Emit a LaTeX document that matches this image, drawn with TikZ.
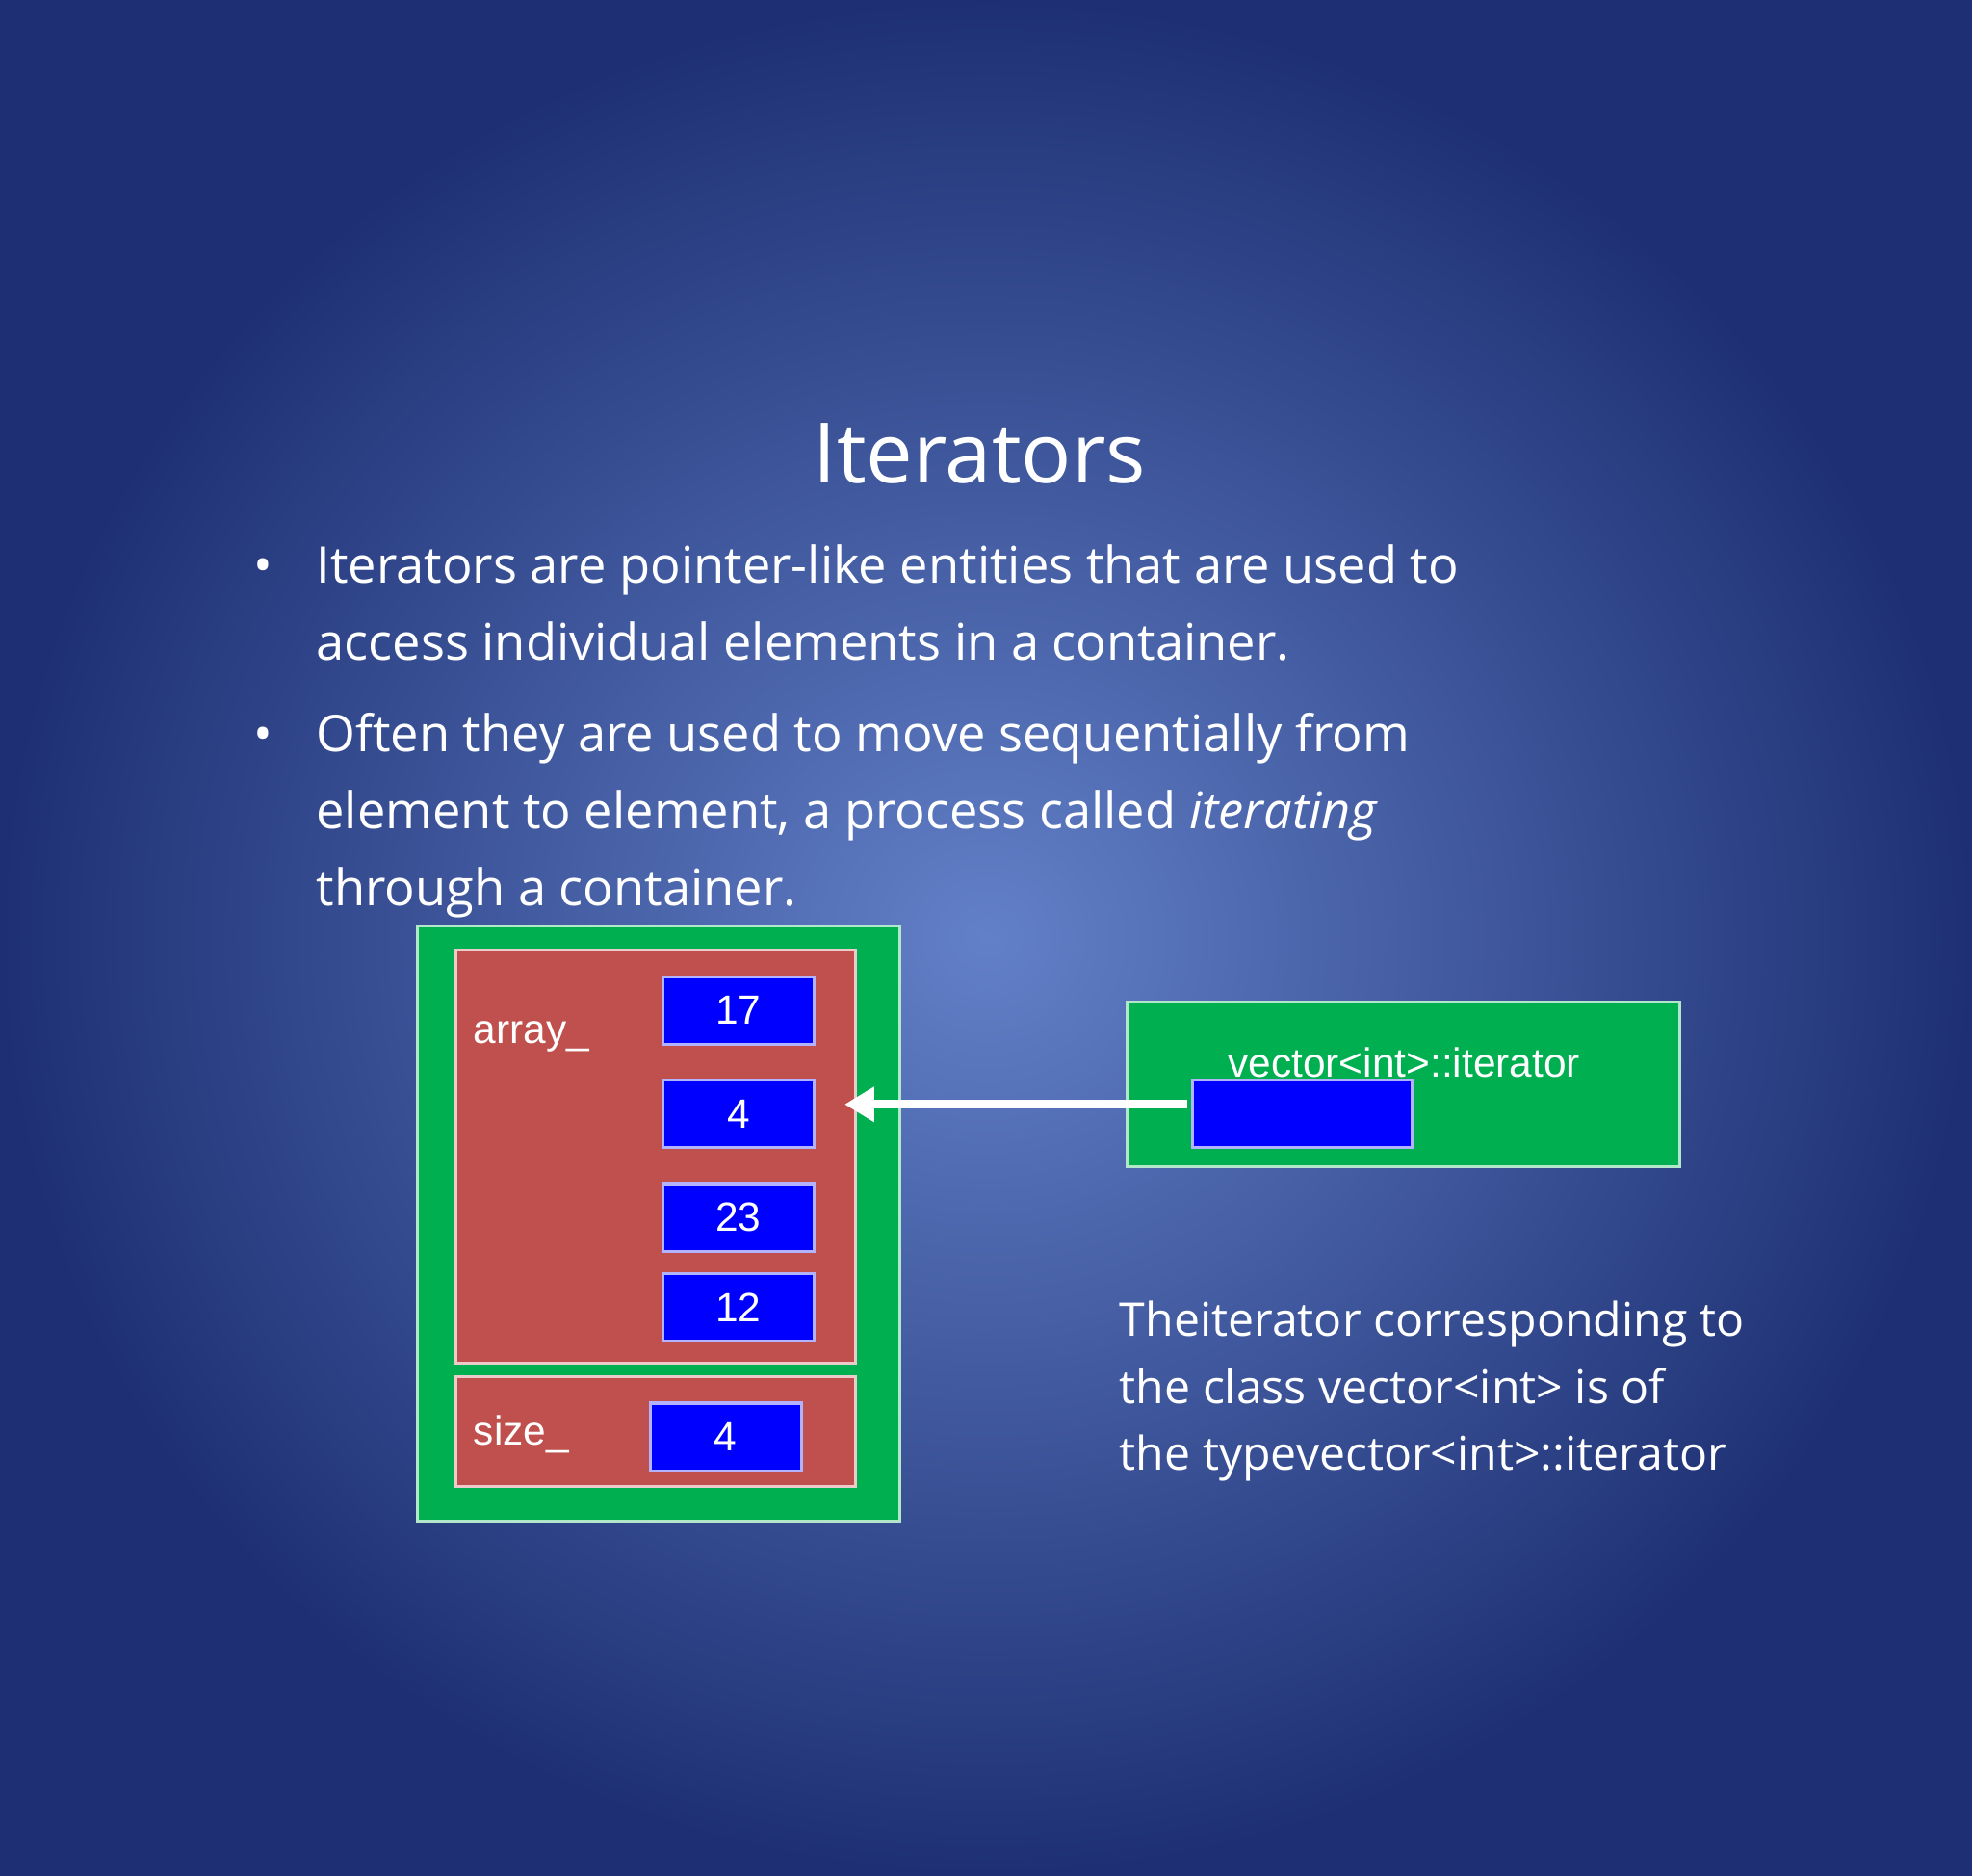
\documentclass[tikz,border=0pt]{standalone}
\usepackage{fontspec}
\usetikzlibrary{arrows.meta}
\setmainfont{Open Sans}
\newfontfamily\arialf{Liberation Sans}
\definecolor{mygreen}{RGB}{0,176,80}
\definecolor{myred}{RGB}{192,80,77}
\begin{document}
\begin{tikzpicture}[x=0.01cm,y=-0.01cm,
  greenbox/.style={draw=white!70!mygreen,line width=0.8pt,fill=mygreen},
  redbox/.style={draw=white!70!myred,line width=0.8pt,fill=myred},
  bluebox/.style={draw=white!70!blue,line width=0.8pt,fill=blue,text=white,font=\arialf\fontsize{11}{13}\selectfont},
  lbl/.style={text=white,font=\arialf\fontsize{11}{13}\selectfont},
  txt/.style={text=white,font=\fontsize{13.6}{17}\selectfont,anchor=base west,inner sep=0},
  rtxt/.style={text=white,font=\fontsize{12.5}{15}\selectfont,anchor=base west,inner sep=0}]
\shade[inner color={rgb,255:red,98;green,128;blue,200},outer color={rgb,255:red,30;green,48;blue,115},shading=radial] (-150,-300) rectangle (1718,1476);
\useasboundingbox (0,0) rectangle (1568,1176);
\node[text=white,font=\fontsize{22.5}{27}\selectfont] (title) at (778,130) {Iterators};
\node[txt] (b1) at (90,252) {\textbullet};
\node[txt] (l1) at (149,252) {Iterators are pointer-like entities that are used to};
\node[txt] (l2) at (149,325) {access individual elements in a container.};
\node[txt] (b2) at (90,412) {\textbullet};
\node[txt] (l3) at (149,412) {Often they are used to move sequentially from};
\node[txt] (l4) at (149,485) {element to element, a process called \textit{iterating}};
\node[txt] (l5) at (149,558) {through a container.};
\draw[greenbox] (245,577) rectangle (702,1141);
\draw[redbox] (282,600) rectangle (660,991);
\draw[redbox] (282,1004) rectangle (660,1108);
\node[bluebox,minimum width=1.43cm,minimum height=0.64cm] (v1) at (549.5,657) {17};
\node[bluebox,minimum width=1.43cm,minimum height=0.64cm] (v2) at (549.5,755) {4};
\node[bluebox,minimum width=1.43cm,minimum height=0.64cm] (v3) at (549.5,853) {23};
\node[bluebox,minimum width=1.43cm,minimum height=0.64cm] (v4) at (549.5,938.5) {12};
\node[bluebox,minimum width=1.43cm,minimum height=0.64cm] (sz) at (537.5,1061) {4};
\node[lbl,anchor=west,inner sep=0] (arr) at (298,682) {array\_};
\node[lbl,anchor=west,inner sep=0] (szl) at (298,1058) {size\_};
\draw[greenbox] (918,649) rectangle (1441,805);
\node[bluebox,minimum width=2.08cm,minimum height=0.64cm] (it) at (1084,755) {};
\node[lbl] (itl) at (1180,706) {vector<int>::iterator};
\coordinate (tip) at (650,746);
\coordinate (start) at (975,746);
\draw[white,line width=2.4pt,-{Triangle[length=8pt,width=9pt]}] (start) -- (tip);
\node[rtxt] (r1) at (910,966) {Theiterator corresponding to};
\node[rtxt] (r2) at (910,1029) {the class vector<int> is of};
\node[rtxt] (r3) at (910,1092) {the typevector<int>::iterator};
\end{tikzpicture}
\end{document}
